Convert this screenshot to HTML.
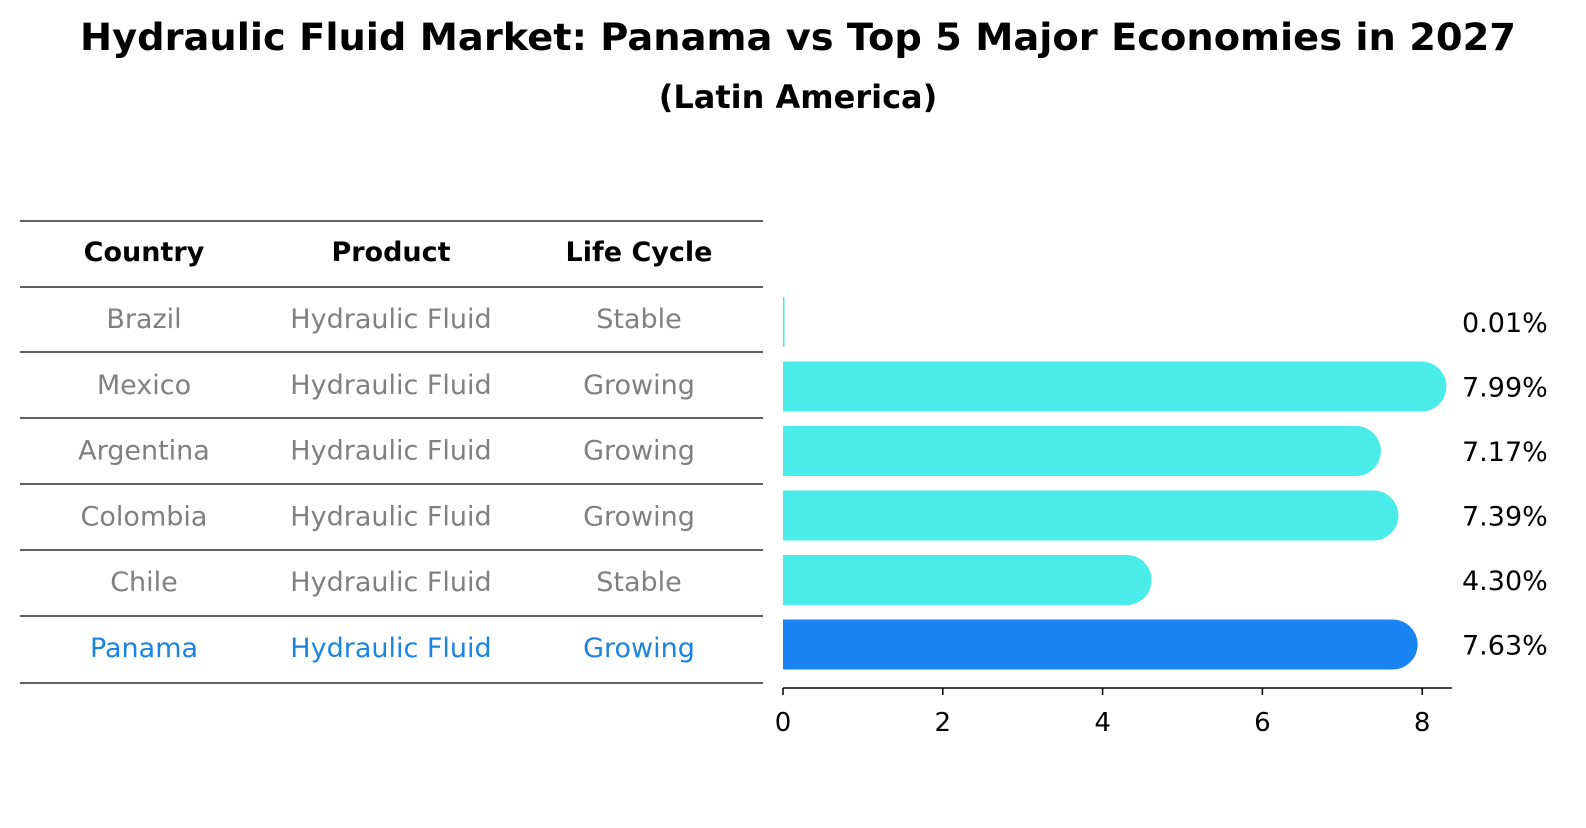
<!DOCTYPE html>
<html><head><meta charset="utf-8"><style>
body{margin:0;background:#fff;font-family:"Liberation Sans","DejaVu Sans",sans-serif}
svg text{font-family:"DejaVu Sans","Liberation Sans",sans-serif}
</style></head><body>
<svg id="c" width="1586" height="823" viewBox="0 0 1586 823">
<text x="798" y="50" text-anchor="middle" font-size="37.5" font-weight="bold" textLength="1436" lengthAdjust="spacingAndGlyphs">Hydraulic Fluid Market: Panama vs Top 5 Major Economies in 2027</text>
<text x="798" y="108" text-anchor="middle" font-size="32" font-weight="bold">(Latin America)</text>
<g id="table"></g>
<g id="bars"></g>
</svg>
<script>
const countries=["Brazil","Mexico","Argentina","Colombia","Chile","Panama"];
const products=["Hydraulic Fluid","Hydraulic Fluid","Hydraulic Fluid","Hydraulic Fluid","Hydraulic Fluid","Hydraulic Fluid"];
const lifeCycles=["Stable","Growing","Growing","Growing","Stable","Growing"];
const growth=[0.01,7.99,7.17,7.39,4.30,7.63];
const ticks=[0,2,4,6,8];
const NS="http://www.w3.org/2000/svg";
function mk(t,a,p){const e=document.createElementNS(NS,t);for(const k in a)e.setAttribute(k,a[k]);p.appendChild(e);return e;}
const tb=document.getElementById('table'),bg=document.getElementById('bars');
const lineYs=[221,287,352,418,484,550,616,683];
lineYs.forEach(y=>{const l=mk('line',{x1:20,x2:763,y1:y,y2:y,stroke:'#000','stroke-width':1.2},tb);

});
const colX=[144,391,639];
["Country","Product","Life Cycle"].forEach((h,i)=>{const t=mk('text',{x:colX[i],y:261,'text-anchor':'middle','font-size':27,'font-weight':'bold'},tb);t.textContent=h;

});
const xs=v=>783+v*79.9;
const rowY=i=>322+i*64.5;
countries.forEach((c,i)=>{
 const last=i===countries.length-1;
 const col=last?'#1a84e0':'#808080';
 [c,products[i],lifeCycles[i]].forEach((v,j)=>{const t=mk('text',{x:colX[j],y:328+i*65.8,'text-anchor':'middle','font-size':27,fill:col},tb);t.textContent=v;
 
 });
 const cy=rowY(i),h=50,r=25,x0=783,x1=xs(growth[i]);
 const fill=last?'#1a84f5':'#4aecea';
 let b;
 if(x1-x0<2){b=mk('rect',{x:x0,y:cy-h/2,width:Math.max(1.5,x1-x0),height:h,fill:fill},bg);}
 else b=mk('path',{d:`M${x0},${cy-h/2}H${x1}A${r},${r} 0 0 1 ${x1},${cy+h/2}H${x0}Z`,fill:fill},bg);
 
 
 const t=mk('text',{x:1462,y:cy+10,'font-size':27},bg);t.textContent=growth[i].toFixed(2)+'%';
 
 
});
const ax=mk('line',{x1:783,x2:1452,y1:688,y2:688,stroke:'#000','stroke-width':1.5},bg);


ticks.forEach(v=>{const l=mk('line',{x1:xs(v),x2:xs(v),y1:688,y2:695,stroke:'#000','stroke-width':1.5},bg);


const t=mk('text',{x:xs(v),y:731,'text-anchor':'middle','font-size':26},bg);t.textContent=v;

});
</script>
</body></html>
